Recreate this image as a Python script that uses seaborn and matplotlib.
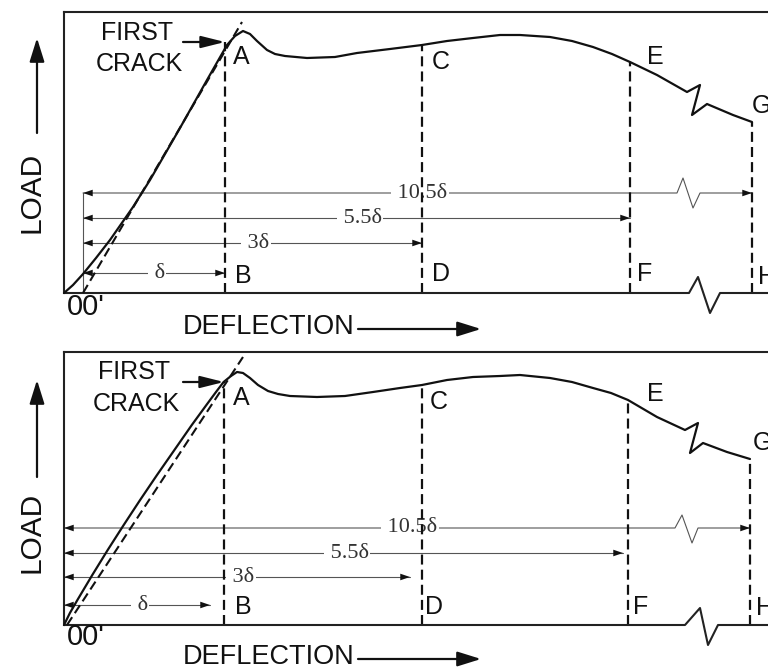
import matplotlib
matplotlib.use("Agg")
import matplotlib.pyplot as plt
import seaborn as sns

sns.set_theme(style="white")
plt.rcParams["font.family"] = ["Liberation Sans", "DejaVu Sans"]

FIG_W, FIG_H = 768, 671

# ---------------- upper diagram (arbitrary load / deflection units) ----------------
top_deflection = [0.0, 0.9, 1.9, 3.2, 4.6, 6.9, 8.6, 11.6, 14.3, 16.3, 17.1, 17.9, 18.6,
                  19.3, 20.3, 21.1, 22.1, 24.3, 27.1, 29.3, 32.6, 35.8, 38.3, 40.9, 43.6,
                  45.6, 48.6, 50.8, 52.9, 54.8, 56.6, 59.3, 62.3, 63.6, 62.8, 64.3, 66.9,
                  68.8]
top_load = [0.0, 0.8, 1.9, 3.5, 5.3, 8.6, 11.3, 16.5, 21.3, 24.8, 25.7, 26.2, 25.9,
            25.2, 24.3, 23.9, 23.7, 23.5, 23.6, 24.0, 24.4, 24.8, 25.2, 25.5, 25.8,
            25.8, 25.6, 25.2, 24.6, 23.9, 23.1, 21.8, 20.1, 20.8, 17.8, 18.9, 17.8,
            17.1]
top_tangent_deflection = [1.9, 17.8]
top_tangent_load = [0.0, 27.1]
top_mark_deflection = [16.1, 35.8, 56.6, 68.8]     # B, D, F, H
top_mark_load = [25.1, 24.8, 23.1, 17.1]           # A, C, E, G
top_origin = 1.9                                   # O'
top_dim_level = [2.0, 5.0, 7.5, 10.0]
top_dim_label_at = [9.3, 19.2, 29.6, 35.6]
top_break_deflection = [61.3, 61.9, 62.9, 63.6]
top_break_offset = [0.0, 1.5, -1.5, 0.0]
top_axis_deflection = [0.0, 62.5, 63.4, 64.6, 65.6, 70.4]
top_axis_load = [0.0, 0.0, 1.6, -2.0, 0.0, 0.0]
top_upper_letter_pos = [(16.9, 23.6), (36.8, 23.1), (58.3, 23.6), (68.8, 18.7)]
top_lower_letter_pos = [(17.1, 1.7), (36.8, 1.9), (57.3, 1.9), (69.4, 1.6)]
top_crack_text = [(7.3, 26.0), (7.5, 22.9)]
top_crack_arrow = (11.9, 16.1, 25.1)

# ---------------- lower diagram ----------------
bot_deflection = [0.0, 0.59, 1.34, 2.83, 4.37, 5.97, 7.61, 9.30, 11.04, 12.78, 14.24,
                  15.20, 15.96, 16.7, 17.3, 17.9, 18.6, 19.4, 20.4, 21.4, 22.6, 25.3,
                  28.1, 30.9, 33.6, 35.8, 38.3, 40.9, 43.6, 45.6, 48.6, 50.8, 52.9,
                  54.7, 56.4, 59.3, 62.1, 63.4, 62.6, 63.9, 66.3, 68.6]
bot_load = [0.0, 1.2, 2.5, 5.0, 7.5, 10.0, 12.5, 15.0, 17.5, 20.0, 22.0, 23.3, 24.3,
            24.9, 25.3, 25.2, 24.7, 24.0, 23.4, 23.1, 22.9, 22.8, 22.9, 23.3, 23.7,
            24.0, 24.5, 24.8, 24.9, 25.0, 24.7, 24.3, 23.7, 23.2, 22.5, 20.8, 19.5,
            20.2, 17.2, 18.2, 17.3, 16.6]
bot_tangent_deflection = [0.3, 17.9]
bot_tangent_load = [0.0, 26.8]
bot_mark_deflection = [16.0, 35.8, 56.4, 68.6]
bot_mark_load = [24.3, 24.0, 22.5, 16.6]
bot_origin = 0.0
bot_dim_level = [2.0, 4.8, 7.2, 9.7]
bot_dim_end = [14.6, 34.6, 55.9, 68.6]
bot_dim_label_at = [7.6, 17.7, 28.3, 34.6]
bot_break_deflection = [61.1, 61.8, 62.8, 63.4]
bot_break_offset = [0.0, 1.3, -1.5, 0.0]
bot_axis_deflection = [0.0, 62.1, 63.6, 64.4, 65.4, 70.4]
bot_axis_load = [0.0, 0.0, 1.7, -2.0, 0.0, 0.0]
bot_upper_letter_pos = [(16.9, 22.7), (36.6, 22.3), (58.3, 23.1), (68.9, 18.2)]
bot_lower_letter_pos = [(17.1, 1.8), (36.1, 1.8), (56.9, 1.8), (69.2, 1.7)]
bot_crack_text = [(7.0, 25.3), (7.2, 22.1)]
bot_crack_arrow = (11.9, 16.0, 24.3)

dim_labels = ["\u03b4", "3\u03b4", "5.5\u03b4", "10.5\u03b4"]
upper_letters = ["A", "C", "E", "G"]
lower_letters = ["B", "D", "F", "H"]

INK = "#111111"
DIM = "#555555"
SERIF = ["Liberation Serif", "DejaVu Serif"]
DASH = (0, (4.5, 2.3))

fig = plt.figure(figsize=(FIG_W / 100, FIG_H / 100), dpi=100)


def frac(x, y):
    """Figure-fraction position of a point given from the top-left corner in pixels."""
    return x / FIG_W, 1 - y / FIG_H


def head(ax, tip, tail, size=14, style="-|>,head_length=0.5,head_width=0.17", lw=0):
    ax.annotate("", xy=tip, xytext=tail,
                arrowprops=dict(arrowstyle=style, color=INK, lw=lw,
                                shrinkA=0, shrinkB=0, mutation_scale=size),
                annotation_clip=False, zorder=6)


def line(ax, xs, ys, **kw):
    n = len(ax.lines)
    sns.lineplot(x=xs, y=ys, sort=False, estimator=None, ax=ax, **kw)
    for ln in ax.lines[n:]:
        ln.set_clip_on(False)
        ln.set_solid_joinstyle("round")


def panel(rect, ylim, defl, load, tan_x, tan_y, mark_x, mark_y, origin, dim_y,
          dim_end, dim_lab_x, brk_x, brk_dy, axis_x, axis_y, up_pos, low_pos,
          crack_txt, crack_arrow, extension):
    ax = fig.add_axes(rect)
    ax.set_xlim(0, 70.4)
    ax.set_ylim(0, ylim)
    ax.set_xticks([])
    ax.set_yticks([])
    for side in ("right", "bottom"):
        ax.spines[side].set_visible(False)
    for side in ("left", "top"):
        ax.spines[side].set_color("#222222")
        ax.spines[side].set_linewidth(1.5)

    # deflection axis with its break
    line(ax, axis_x, axis_y, color="#222222", lw=1.5, zorder=4)

    # dimension lines
    for i, (lev, end, lx, lab) in enumerate(zip(dim_y, dim_end, dim_lab_x, dim_labels)):
        if i == len(dim_y) - 1:
            xs = [origin] + brk_x + [end]
            ys = [lev] + [lev + d for d in brk_dy] + [lev]
        else:
            xs, ys = [origin, end], [lev, lev]
        line(ax, xs, ys, color=DIM, lw=0.8, zorder=1)
        head(ax, (origin, lev), (origin + 1.0, lev))
        head(ax, (end, lev), (end - 1.0, lev))
        ax.text(lx, lev, " " + lab, family=SERIF, fontsize=16, color="#333333",
                ha="center", va="center", zorder=2,
                bbox=dict(boxstyle="square,pad=0.05", fc="white", ec="none"))
    if extension:
        line(ax, [origin, origin], [0, dim_y[-1]], color=DIM, lw=0.8, zorder=1)

    # tangent and load-deflection curve
    line(ax, tan_x, tan_y, color=INK, lw=1.5, linestyle=DASH, zorder=4)
    line(ax, defl, load, color=INK, lw=1.6, zorder=5)

    # verticals at the marked deflections
    for mx, my in zip(mark_x, mark_y):
        line(ax, [mx, mx], [0, my], color=INK, lw=1.6, linestyle=DASH, zorder=3)

    for (x, y), t in zip(up_pos, upper_letters):
        ax.text(x, y, t, fontsize=18, ha="left", va="center", color=INK, clip_on=False)
    for (x, y), t in zip(low_pos, lower_letters):
        ax.text(x, y, t, fontsize=18, ha="left", va="center", color=INK, clip_on=False)

    for (x, y), t in zip(crack_txt, ["FIRST", "CRACK"]):
        ax.text(x, y, t, fontsize=18, ha="center", va="center", color=INK)
    x0, x1, cy = crack_arrow
    ax.annotate("", xy=(x1, cy), xytext=(x0, cy),
                arrowprops=dict(arrowstyle="-|>,head_length=0.8,head_width=0.2",
                                color=INK, lw=1.6, shrinkA=0, shrinkB=0,
                                mutation_scale=18), zorder=6)
    return ax


panel([64 / FIG_W, (FIG_H - 293) / FIG_H, 704 / FIG_W, 281 / FIG_H], 28.1,
      top_deflection, top_load, top_tangent_deflection, top_tangent_load,
      top_mark_deflection, top_mark_load, top_origin, top_dim_level,
      top_mark_deflection, top_dim_label_at, top_break_deflection, top_break_offset,
      top_axis_deflection, top_axis_load, top_upper_letter_pos, top_lower_letter_pos,
      top_crack_text, top_crack_arrow, extension=True)

panel([64 / FIG_W, (FIG_H - 625) / FIG_H, 704 / FIG_W, 273 / FIG_H], 27.3,
      bot_deflection, bot_load, bot_tangent_deflection, bot_tangent_load,
      bot_mark_deflection, bot_mark_load, bot_origin, bot_dim_level,
      bot_dim_end, bot_dim_label_at, bot_break_deflection, bot_break_offset,
      bot_axis_deflection, bot_axis_load, bot_upper_letter_pos, bot_lower_letter_pos,
      bot_crack_text, bot_crack_arrow, extension=False)

# axis titles with their direction arrows
big_arrow = dict(arrowstyle="-|>,head_length=0.8,head_width=0.25", color=INK, lw=1.6,
                 shrinkA=0, shrinkB=0, mutation_scale=18)
for load_y, a0, a1, defl_y in [(192, 133, 38, 327), (532, 477, 380, 657)]:
    fig.text(*frac(32, load_y), "LOAD", rotation=90, fontsize=21.5,
             ha="center", va="center", color=INK)
    fig.add_artist(matplotlib.patches.FancyArrowPatch(
        frac(37, a0), frac(37, a1), transform=fig.transFigure, **big_arrow))
    fig.text(*frac(183, defl_y), "DEFLECTION", fontsize=19.5, ha="left", va="center",
             color=INK)
    fig.add_artist(matplotlib.patches.FancyArrowPatch(
        frac(358, defl_y + 2), frac(481, defl_y + 2), transform=fig.transFigure,
        **big_arrow))
    fig.text(*frac(67, defl_y - 20), "00'", fontsize=21,
             family=["Liberation Sans Narrow", "Liberation Sans"],
             ha="left", va="center", color=INK)

fig.savefig("out.png", dpi=100, facecolor="white")
